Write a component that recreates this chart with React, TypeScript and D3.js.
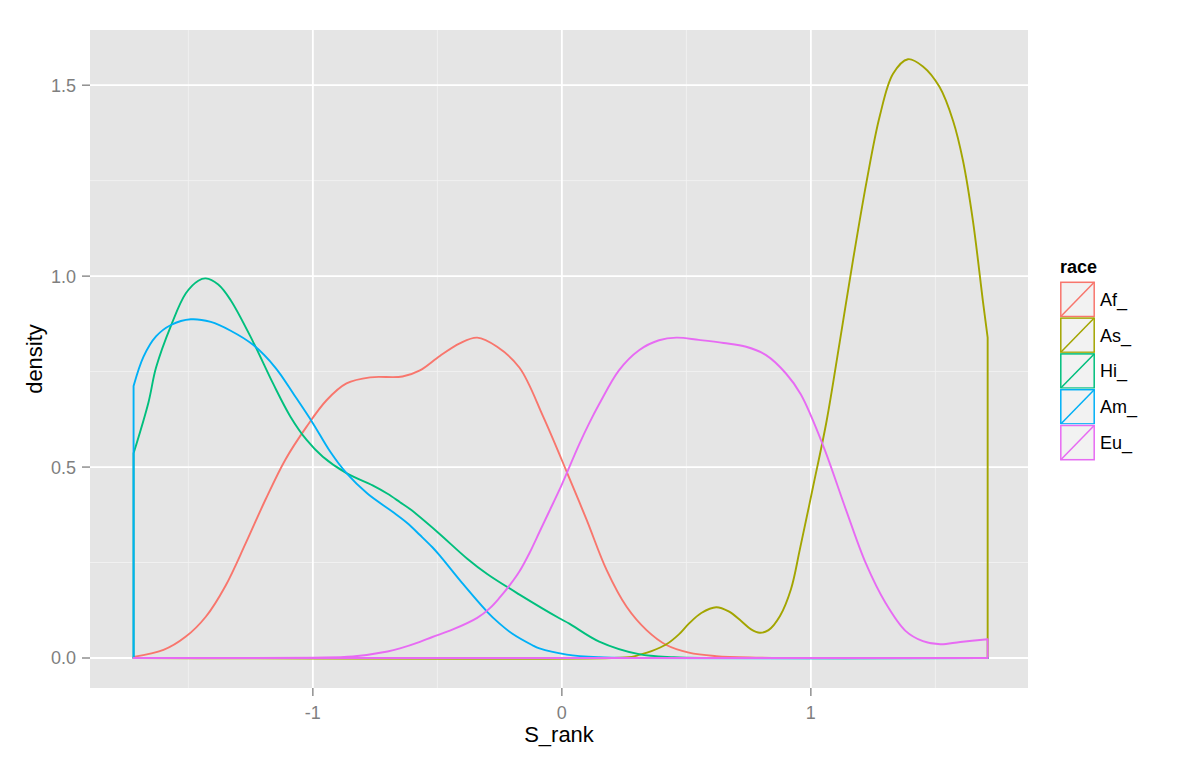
import React from "react";
import * as d3 from "d3";

// ---- data ----
const raceCategories = ["Af_", "As_", "Hi_", "Am_", "Eu_"];
const raceColors = ["#F8766D", "#A3A500", "#00BF7D", "#00B0F6", "#E76BF3"];

const afDensity: [number, number][] = [
  [-1.72, 0.003], [-1.6, 0.021], [-1.51, 0.056], [-1.43, 0.108], [-1.35, 0.19],
  [-1.27, 0.3], [-1.19, 0.415], [-1.11, 0.52], [-1.025, 0.606], [-0.945, 0.675],
  [-0.865, 0.719], [-0.77, 0.735], [-0.64, 0.737], [-0.57, 0.753], [-0.49, 0.791],
  [-0.41, 0.824], [-0.34, 0.839], [-0.26, 0.815], [-0.17, 0.76], [-0.075, 0.632],
  [0.025, 0.479], [0.1, 0.361], [0.18, 0.23], [0.26, 0.134], [0.34, 0.073],
  [0.42, 0.034], [0.51, 0.014], [0.62, 0.005], [0.78, 0.001], [0.9, 0], [1.71, 0],
];

const asDensity: [number, number][] = [
  [-1.72, 0], [0.2, 0], [0.28, 0.003], [0.31, 0.008], [0.36, 0.018], [0.42, 0.036],
  [0.47, 0.062], [0.51, 0.09], [0.56, 0.118], [0.62, 0.133], [0.67, 0.122],
  [0.72, 0.097], [0.76, 0.075], [0.795, 0.066], [0.83, 0.073], [0.876, 0.11],
  [0.92, 0.18], [0.956, 0.285], [1.009, 0.449], [1.063, 0.62], [1.116, 0.828],
  [1.17, 1.045], [1.223, 1.245], [1.277, 1.42], [1.33, 1.53], [1.39, 1.568],
  [1.45, 1.549], [1.517, 1.495], [1.571, 1.407], [1.611, 1.302], [1.651, 1.144],
  [1.691, 0.934], [1.71, 0.839],
];

const hiDensity: [number, number][] = [
  [-1.72, 0.536], [-1.66, 0.67], [-1.63, 0.76], [-1.57, 0.87], [-1.51, 0.955],
  [-1.46, 0.988], [-1.43, 0.994], [-1.38, 0.978], [-1.33, 0.937], [-1.24, 0.828],
  [-1.16, 0.719], [-1.09, 0.632], [-1.025, 0.571], [-0.96, 0.527], [-0.865, 0.484],
  [-0.76, 0.452], [-0.7, 0.43], [-0.65, 0.408], [-0.61, 0.39], [-0.5, 0.33],
  [-0.38, 0.26], [-0.3, 0.22], [-0.17, 0.166], [-0.01, 0.104], [0.03, 0.09],
  [0.15, 0.043], [0.31, 0.01], [0.45, 0.002], [0.6, 0], [1.71, 0],
];

const amDensity: [number, number][] = [
  [-1.72, 0.712], [-1.68, 0.789], [-1.63, 0.842], [-1.57, 0.872], [-1.49, 0.887],
  [-1.41, 0.88], [-1.33, 0.857], [-1.24, 0.82], [-1.15, 0.76], [-1.07, 0.684],
  [-1.0, 0.615], [-0.93, 0.54], [-0.865, 0.484], [-0.78, 0.43], [-0.68, 0.383],
  [-0.62, 0.353], [-0.57, 0.322], [-0.52, 0.29], [-0.49, 0.268], [-0.4, 0.196],
  [-0.3, 0.121], [-0.25, 0.09], [-0.2, 0.064], [-0.12, 0.034], [-0.09, 0.025],
  [0.02, 0.009], [0.15, 0.002], [0.3, 0], [1.71, 0],
];

const euDensity: [number, number][] = [
  [-1.72, 0], [-1.0, 0.001], [-0.84, 0.004], [-0.7, 0.017], [-0.65, 0.025],
  [-0.57, 0.042], [-0.52, 0.055], [-0.44, 0.074], [-0.34, 0.105], [-0.29, 0.13],
  [-0.25, 0.158], [-0.21, 0.19], [-0.17, 0.227], [-0.13, 0.275], [-0.09, 0.33],
  [-0.05, 0.385], [-0.01, 0.44], [0.03, 0.5], [0.07, 0.56], [0.11, 0.615],
  [0.15, 0.665], [0.23, 0.754], [0.31, 0.806], [0.39, 0.832], [0.46, 0.839],
  [0.55, 0.833], [0.65, 0.825], [0.74, 0.815], [0.82, 0.793], [0.9, 0.745],
  [0.96, 0.69], [1.05, 0.555], [1.14, 0.39], [1.22, 0.249], [1.3, 0.144],
  [1.38, 0.071], [1.45, 0.044], [1.52, 0.036], [1.6, 0.042], [1.71, 0.049],
];

const seriesData = [afDensity, asDensity, hiDensity, amDensity, euDensity];

const xMajorTicks = [-1, 0, 1];
const xMinorTicks = [-1.5, -0.5, 0.5, 1.5];
const yMajorTicks = [0, 0.5, 1.0, 1.5];
const yMinorTicks = [0.25, 0.75, 1.25];

const xTitle = "S_rank";
const yTitle = "density";
const legendTitle = "race";

// ---- layout ----
const W = 1200;
const H = 765;
const panel = { left: 90, right: 1028, top: 30, bottom: 688 };
const FONT = "'Liberation Sans', Arial, Helvetica, sans-serif";

export default function App() {
  const x = d3.scaleLinear().domain([-1.895, 1.872]).range([panel.left, panel.right]);
  const y = d3.scaleLinear().domain([-0.07855, 1.6445]).range([panel.bottom, panel.top]);

  const area = d3
    .area<[number, number]>()
    .x((d) => x(d[0]))
    .y0(() => y(0))
    .y1((d) => y(d[1]))
    .curve(d3.curveCatmullRom.alpha(0.5));

  const keyX = 1060;
  const keyW = 35;
  const keyH = 35.8;
  const keyTop = 281.5;

  return (
    <svg
      width={W}
      height={H}
      style={{ position: "absolute", left: 0, top: 0, background: "#fff" }}
      fontFamily={FONT}
    >
      <rect x={0} y={0} width={W} height={H} fill="#ffffff" />
      {/* panel */}
      <rect
        x={panel.left}
        y={panel.top}
        width={panel.right - panel.left}
        height={panel.bottom - panel.top}
        fill="#E5E5E5"
      />
      {xMinorTicks.map((t) => (
        <line key={"xm" + t} x1={x(t)} x2={x(t)} y1={panel.top} y2={panel.bottom} stroke="#F2F2F2" strokeWidth={0.9} />
      ))}
      {yMinorTicks.map((t) => (
        <line key={"ym" + t} y1={y(t)} y2={y(t)} x1={panel.left} x2={panel.right} stroke="#F2F2F2" strokeWidth={0.9} />
      ))}
      {xMajorTicks.map((t) => (
        <line key={"xM" + t} x1={x(t)} x2={x(t)} y1={panel.top} y2={panel.bottom} stroke="#FFFFFF" strokeWidth={1.8} />
      ))}
      {yMajorTicks.map((t) => (
        <line key={"yM" + t} y1={y(t)} y2={y(t)} x1={panel.left} x2={panel.right} stroke="#FFFFFF" strokeWidth={1.8} />
      ))}

      {/* densities */}
      {seriesData.map((s, i) => (
        <path
          key={raceCategories[i]}
          d={area(s) || ""}
          fill="none"
          stroke={raceColors[i]}
          strokeWidth={1.9}
          strokeLinejoin="round"
        />
      ))}

      {/* y axis */}
      {yMajorTicks.map((t) => (
        <g key={"yt" + t}>
          <line x1={panel.left - 8} x2={panel.left} y1={y(t)} y2={y(t)} stroke="#7F7F7F" strokeWidth={1.3} />
          <text x={panel.left - 14} y={y(t)} dy="0.36em" textAnchor="end" fontSize={18} fill="#7F7F7F">
            {d3.format(".1f")(t)}
          </text>
        </g>
      ))}
      {/* x axis */}
      {xMajorTicks.map((t) => (
        <g key={"xt" + t}>
          <line x1={x(t)} x2={x(t)} y1={panel.bottom} y2={panel.bottom + 8} stroke="#7F7F7F" strokeWidth={1.3} />
          <text x={x(t)} y={panel.bottom + 31} textAnchor="middle" fontSize={18} fill="#7F7F7F">
            {t < 0 ? "-" + Math.abs(t) : String(t)}
          </text>
        </g>
      ))}

      <text x={(panel.left + panel.right) / 2} y={742} textAnchor="middle" fontSize={22} fill="#000">
        {xTitle}
      </text>
      <text
        transform={`translate(42, ${(panel.top + panel.bottom) / 2}) rotate(-90)`}
        textAnchor="middle"
        fontSize={22}
        fill="#000"
      >
        {yTitle}
      </text>

      {/* legend */}
      <text x={keyX} y={273} fontSize={18} fontWeight="bold" fill="#000">
        {legendTitle}
      </text>
      {raceCategories.map((c, i) => {
        const top = keyTop + i * keyH;
        return (
          <g key={"lg" + c}>
            <rect x={keyX} y={top} width={keyW} height={keyH} fill="#F2F2F2" stroke="#ffffff" strokeWidth={0.5} />
            <rect
              x={keyX + 0.8}
              y={top + 0.8}
              width={keyW - 1.6}
              height={keyH - 1.6}
              fill="none"
              stroke={raceColors[i]}
              strokeWidth={1.5}
            />
            <line
              x1={keyX + 0.8}
              y1={top + keyH - 0.8}
              x2={keyX + keyW - 0.8}
              y2={top + 0.8}
              stroke={raceColors[i]}
              strokeWidth={1.5}
            />
            <text x={keyX + keyW + 5} y={top + keyH / 2} dy="0.36em" fontSize={18} fill="#000">
              {c}
            </text>
          </g>
        );
      })}
    </svg>
  );
}
